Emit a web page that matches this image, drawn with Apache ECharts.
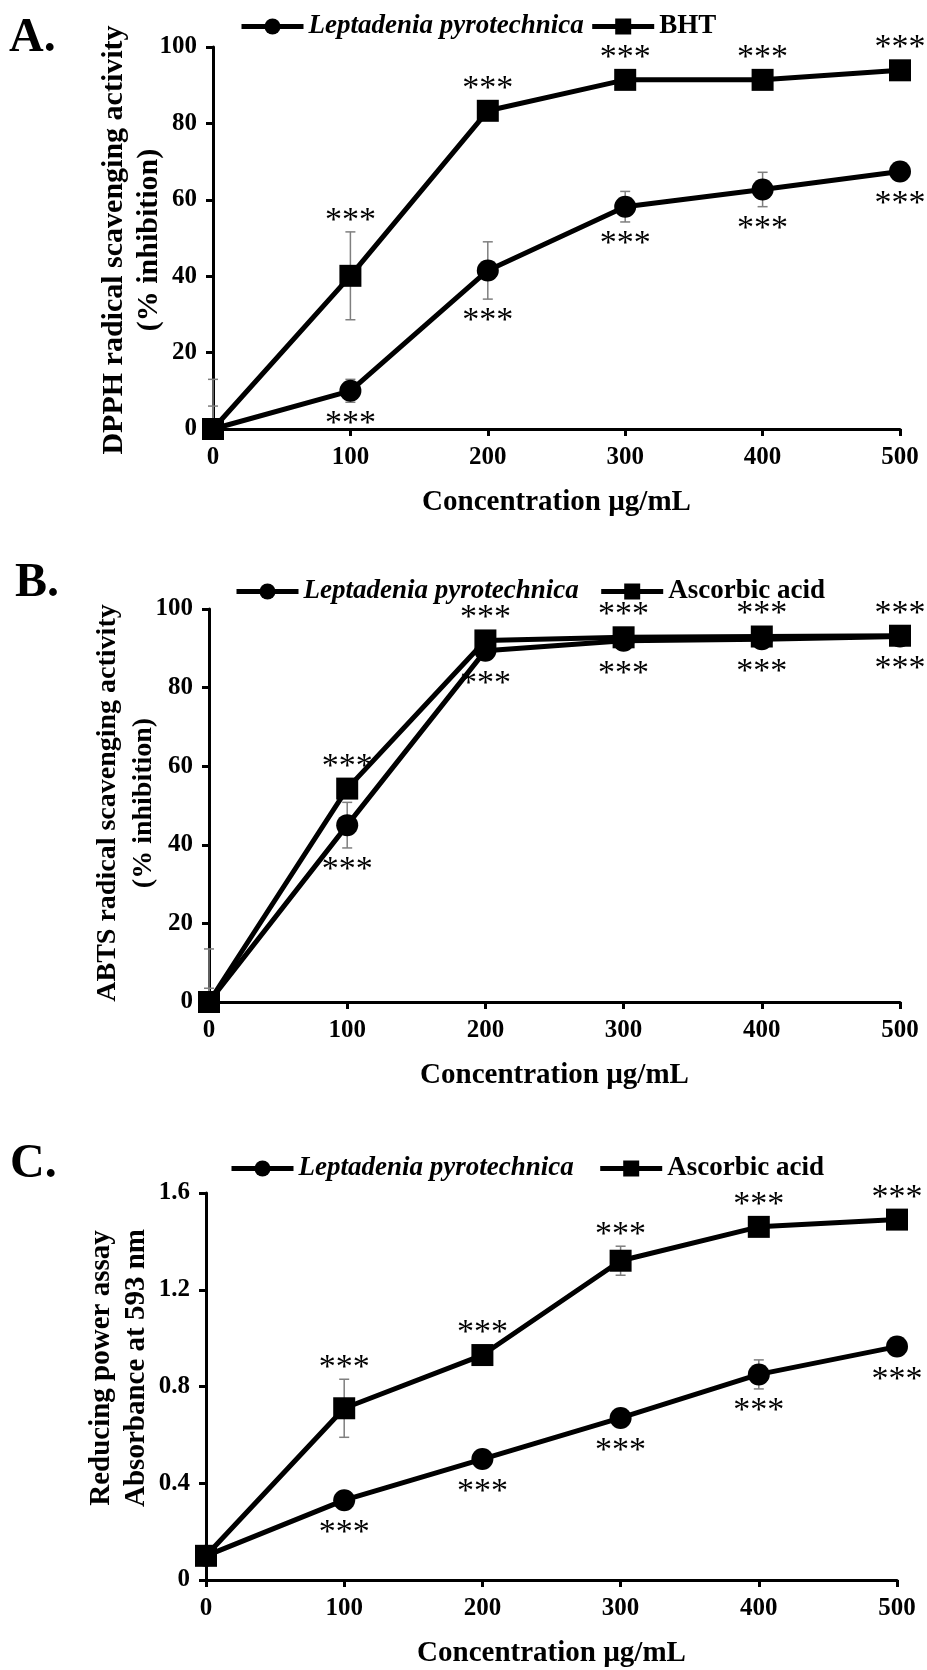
<!DOCTYPE html>
<html>
<head>
<meta charset="utf-8">
<script src="https://cdn.jsdelivr.net/npm/echarts@6/dist/echarts.min.js"></script>
<style>
  html, body { margin: 0; padding: 0; background: #fff; }
  #main { width: 927px; height: 1670px; }
</style>
</head>
<body>
<div id="main"></div>
<script>
// concentrations (µg/mL)
var conc = [0, 100, 200, 300, 400, 500];

// A. DPPH
var dpphLepta = [0, 10.0, 41.5, 58.2, 62.7, 67.4];
var dpphLeptaErr = [6, 3, 7.5, 4, 4.5, 1];
var dpphBht = [0, 40.1, 83.3, 91.4, 91.4, 93.9];
var dpphBhtErr = [13, 11.5, 1, 1, 1, 1];

// B. ABTS
var abtsLepta = [0, 45.0, 89.4, 91.9, 92.3, 93.0];
var abtsLeptaErr = [3.5, 5.8, 1, 1.5, 1.5, 1];
var abtsAsc = [0, 54.3, 92.0, 92.8, 93.0, 93.2];
var abtsAscErr = [13.5, 1, 1, 1, 1, 1];

// C. reducing power
var frapLepta = [0.10, 0.33, 0.50, 0.67, 0.85, 0.965];
var frapLeptaErr = [0.01, 0.02, 0.02, 0.02, 0.06, 0.02];
var frapAsc = [0.10, 0.71, 0.93, 1.32, 1.46, 1.49];
var frapAscErr = [0.01, 0.12, 0.03, 0.06, 0.03, 0.02];

var stars = ['', '***', '***', '***', '***', '***'];

var SERIF = '"Liberation Serif", "Times New Roman", serif';
var LEPTA = 'Leptadenia pyrotechnica';

function pairs(ys, errs) {
    return conc.map(function (x, i) { return [x, ys[i], errs[i], stars[i]]; });
}

// error bar + significance stars, side = 1 above, -1 below
function errSeries(idx, ys, errs, side) {
    return {
        type: 'custom',
        xAxisIndex: idx,
        yAxisIndex: idx,
        z: 1,
        silent: true,
        data: pairs(ys, errs),
        encode: { x: 0, y: 1 },
        renderItem: function (params, api) {
            var x = api.value(0), y = api.value(1), e = api.value(2);
            var lo = Math.max(y - e, 0);
            var p = api.coord([x, y]);
            var top = api.coord([x, y + e]);
            var bot = api.coord([x, lo]);
            var cap = 5;
            var st = { stroke: '#7f7f7f', lineWidth: 1.5 };
            var children = [
                { type: 'line', shape: { x1: p[0], y1: top[1], x2: p[0], y2: bot[1] }, style: st },
                { type: 'line', shape: { x1: p[0] - cap, y1: top[1], x2: p[0] + cap, y2: top[1] }, style: st },
                { type: 'line', shape: { x1: p[0] - cap, y1: bot[1], x2: p[0] + cap, y2: bot[1] }, style: st }
            ];
            var s = api.value(3);
            if (s) {
                var d = side > 0 ? Math.max(p[1] - top[1], 11) + 17 : Math.max(bot[1] - p[1], 11) + 16;
                children.push({ type: 'text', x: p[0], y: p[1] - side * d + 6,
                    style: { text: s, font: '34px ' + SERIF, fill: '#000', align: 'center', verticalAlign: 'middle' } });
            }
            return { type: 'group', children: children };
        }
    };
}

function lineSeries(idx, name, ys, symbol) {
    return {
        type: 'line',
        name: name,
        xAxisIndex: idx,
        yAxisIndex: idx,
        z: 3,
        data: conc.map(function (x, i) { return [x, ys[i]]; }),
        symbol: symbol,
        symbolSize: 22,
        lineStyle: { color: '#000', width: 5 },
        itemStyle: { color: '#000' },
        emphasis: { disabled: true }
    };
}

var tickText = { color: '#000', fontFamily: SERIF, fontWeight: 'bold', fontSize: 25 };
var axisCommon = {
    axisLine: { lineStyle: { color: '#000', width: 3 } },
    axisTick: { show: true, length: 7, lineStyle: { color: '#000', width: 3 } },
    splitLine: { show: false }
};

function xAxisFor(idx) {
    return Object.assign({
        type: 'value', gridIndex: idx, min: 0, max: 500, interval: 100,
        name: 'Concentration µg/mL', nameLocation: 'middle', nameGap: 59,
        nameTextStyle: { color: '#000', fontFamily: SERIF, fontWeight: 'bold', fontSize: 29 },
        axisLabel: Object.assign({ margin: 16 }, tickText)
    }, axisCommon);
}

function yAxisFor(idx, max, interval) {
    return Object.assign({
        type: 'value', gridIndex: idx, min: 0, max: max, interval: interval,
        axisLabel: Object.assign({ margin: 16 }, tickText)
    }, axisCommon);
}

function legendFor(names, left, top, gap) {
    return {
        data: names, left: left, top: top, itemWidth: 62, itemHeight: 20, itemGap: gap,
        selectedMode: false,
        lineStyle: { width: 5, color: '#000' },
        textStyle: {
            color: '#000', fontFamily: SERIF, fontWeight: 'bold', fontSize: 27,
            rich: {
                i: { fontFamily: SERIF, fontWeight: 'bold', fontStyle: 'italic', fontSize: 27, color: '#000' },
                n: { fontFamily: SERIF, fontWeight: 'bold', fontSize: 27, color: '#000' }
            }
        },
        formatter: function (n) { return n === LEPTA ? '{i|' + n + '}' : '{n|' + n + '}'; }
    };
}

function panelLetter(t, left, top) {
    return { type: 'text', left: left, top: top,
        style: { text: t, font: 'bold 48px ' + SERIF, fill: '#000' } };
}

// rotated two-line y-axis title, centred at (x, y)
function yTitle(t, x, y, size, lh) {
    return { type: 'text', x: x, y: y, rotation: Math.PI / 2,
        style: { text: t, font: 'bold ' + size + 'px ' + SERIF, lineHeight: lh, fill: '#000',
            align: 'center', verticalAlign: 'middle' } };
}

var option = {
    backgroundColor: '#fff',
    animation: false,
    graphic: [
        panelLetter('A.', 9, 15),
        panelLetter('B.', 15, 560),
        panelLetter('C.', 10, 1141),
        yTitle('DPPH radical scavenging activity\n(% inhibition)', 132, 240, 30, 35),
        yTitle('ABTS radical scavenging activity\n(% inhibition)', 126, 803, 28, 36),
        yTitle('Reducing power assay\nAbsorbance at 593 nm', 119, 1368, 29, 35)
    ],
    legend: [
        legendFor([LEPTA, 'BHT'], 234, 8, 6),
        legendFor([LEPTA, 'Ascorbic acid'], 229, 573, 20),
        legendFor([LEPTA, 'Ascorbic acid'], 224, 1150, 24)
    ],
    grid: [
        { left: 213, top: 47, width: 687, height: 382 },
        { left: 209, top: 609, width: 691, height: 393 },
        { left: 206, top: 1193, width: 691, height: 387 }
    ],
    xAxis: [xAxisFor(0), xAxisFor(1), xAxisFor(2)],
    yAxis: [
        yAxisFor(0, 100, 20),
        yAxisFor(1, 100, 20),
        yAxisFor(2, 1.6, 0.4)
    ],
    series: [
        errSeries(0, dpphLepta, dpphLeptaErr, -1),
        errSeries(0, dpphBht, dpphBhtErr, 1),
        lineSeries(0, LEPTA, dpphLepta, 'circle'),
        lineSeries(0, 'BHT', dpphBht, 'rect'),

        errSeries(1, abtsLepta, abtsLeptaErr, -1),
        errSeries(1, abtsAsc, abtsAscErr, 1),
        lineSeries(1, LEPTA, abtsLepta, 'circle'),
        lineSeries(1, 'Ascorbic acid', abtsAsc, 'rect'),

        errSeries(2, frapLepta, frapLeptaErr, -1),
        errSeries(2, frapAsc, frapAscErr, 1),
        lineSeries(2, LEPTA, frapLepta, 'circle'),
        lineSeries(2, 'Ascorbic acid', frapAsc, 'rect')
    ]
};

var chart = echarts.init(document.getElementById('main'));
chart.setOption(option);
</script>
</body>
</html>
